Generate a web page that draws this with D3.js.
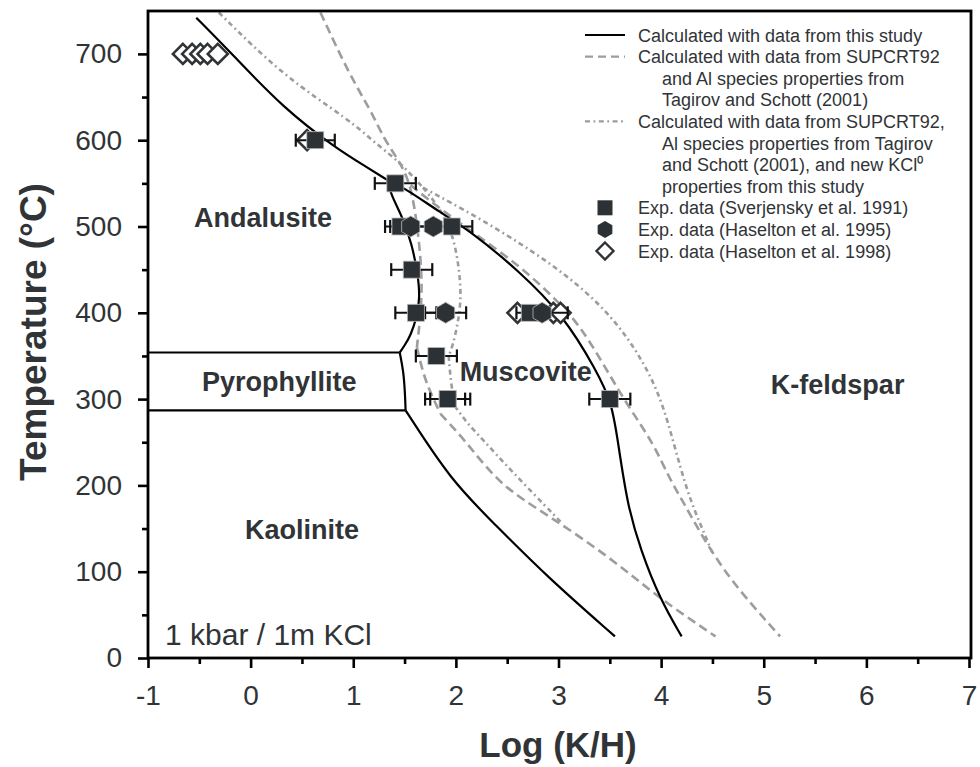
<!DOCTYPE html>
<html>
<head>
<meta charset="utf-8">
<script src="https://cdn.jsdelivr.net/npm/d3@7"></script>
<style>
  html, body { margin: 0; padding: 0; background: #fff; }
  svg { display: block; font-family: "Liberation Sans", Arial, sans-serif; }
</style>
</head>
<body>
<svg id="chart" width="980" height="767"></svg>
<script>
// ---- tick values ----
const xTicks = [-1, 0, 1, 2, 3, 4, 5, 6, 7];
const xMinor = [-0.5, 0.5, 1.5, 2.5, 3.5, 4.5, 5.5, 6.5];
const yTicks = [0, 100, 200, 300, 400, 500, 600, 700];
const yMinor = [50, 150, 250, 350, 450, 550, 650];

// ---- phase boundaries, [log(K/H), T °C] ----
// this study (solid)
const solidAndKfs  = [[-0.53, 742], [-0.19, 701], [0.32, 637], [0.84, 590], [1.13, 569], [1.33, 554]];
const solidMuscKfs = [[1.33, 554], [1.51, 544], [1.85, 516], [2.14, 495], [2.6, 450], [3.05, 397], [3.37, 333], [3.52, 296], [3.58, 250], [3.67, 178], [3.8, 125], [3.99, 68], [4.2, 25]];
const solidAndMusc = [[1.33, 554], [1.37, 536], [1.48, 511], [1.57, 480], [1.63, 445], [1.65, 418], [1.62, 395], [1.56, 374], [1.5, 362], [1.453, 354]];
const solidPyrMusc = [[1.453, 354], [1.49, 332], [1.505, 305], [1.51, 287]];
const solidKaoMusc = [[1.51, 287], [1.95, 206], [2.37, 156], [2.89, 94], [3.55, 25]];
const pyrUpper = [[-1, 354], [1.453, 354]];
const pyrLower = [[-1, 287], [1.51, 287]];

// SUPCRT92 + Tagirov & Schott (dashed)
const dashAnd  = [[0.68, 748], [0.97, 674], [1.17, 635], [1.3, 601], [1.46, 574], [1.56, 548], [1.62, 505], [1.66, 460], [1.67, 425], [1.65, 390], [1.62, 360]];
const dashPyr  = [[1.62, 360], [1.68, 330], [1.75, 308], [1.85, 283]];
const dashKao  = [[1.85, 283], [2.12, 248], [2.43, 200], [2.89, 166], [3.5, 117], [3.96, 71], [4.53, 25]];
const dashKfs  = [[1.56, 548], [1.69, 535], [2.08, 500], [2.6, 457], [2.98, 415], [3.21, 385], [3.44, 340], [3.67, 293], [3.92, 250], [4.08, 208], [4.22, 180], [4.38, 145], [4.67, 90], [5.16, 25]];

// with new KCl0 properties (dash-dot)
const dotAnd  = [[-0.31, 748], [0.32, 674], [0.97, 623], [1.2, 598], [1.45, 575], [1.68, 545]];
const dotMusc = [[1.68, 545], [1.8, 528], [1.93, 503], [2.0, 475], [2.04, 442], [2.05, 415], [2.02, 388], [1.97, 362], [1.93, 350]];
const dotPyr  = [[1.93, 350], [1.95, 320], [1.99, 292]];
const dotKao  = [[1.99, 292], [2.11, 272], [2.24, 256], [2.53, 218], [3.02, 158]];
const dotKfs  = [[1.68, 545], [2.21, 511], [2.73, 473], [3.21, 432], [3.63, 382], [3.97, 314], [4.12, 250], [4.26, 190], [4.4, 150], [4.5, 122]];

// ---- experimental data: x, T, error in log units ----
const sverjensky1991 = [
  {x: 0.63, t: 600, e: 0.19},
  {x: 1.41, t: 550, e: 0.2},
  {x: 1.46, t: 500, e: 0.15},
  {x: 1.96, t: 500, e: 0.2},
  {x: 1.57, t: 450, e: 0.2},
  {x: 1.61, t: 400, e: 0.2},
  {x: 2.72, t: 400, e: 0},
  {x: 1.81, t: 350, e: 0.2},
  {x: 1.92, t: 300, e: 0.22},
  {x: 1.92, t: 300, e: 0.17},
  {x: 3.50, t: 300, e: 0.2}
];
const haselton1995 = [
  {x: 1.56, t: 500, e: 0.2},
  {x: 1.78, t: 500, e: 0.2},
  {x: 1.90, t: 400, e: 0.2},
  {x: 2.84, t: 400, e: 0.25}
];
const haselton1998 = [
  {x: -0.66, t: 700}, {x: -0.57, t: 700}, {x: -0.49, t: 700}, {x: -0.42, t: 700}, {x: -0.32, t: 700},
  {x: 0.55, t: 600},
  {x: 2.6, t: 400}, {x: 2.95, t: 400}, {x: 3.02, t: 400}
];

// ---- text ----
const phaseLabels = [
  {name: "Andalusite", x: 0.12, t: 500},
  {name: "Pyrophyllite", x: 0.28, t: 309},
  {name: "Muscovite", x: 2.68, t: 321},
  {name: "K-feldspar", x: 5.72, t: 306},
  {name: "Kaolinite", x: 0.5, t: 138}
];
const legendRows = [
  {kind: "solid", lines: ["Calculated with data from this study"]},
  {kind: "dash", lines: ["Calculated with data from SUPCRT92", "and Al species properties from", "Tagirov and Schott (2001)"]},
  {kind: "dot", lines: ["Calculated with data from SUPCRT92,", "Al species properties from Tagirov", "and Schott (2001), and new KCl\u2070", "properties from this study"]},
  {kind: "square", lines: ["Exp. data (Sverjensky et al. 1991)"]},
  {kind: "hex", lines: ["Exp. data (Haselton et al. 1995)"]},
  {kind: "diamond", lines: ["Exp. data (Haselton et al. 1998)"]}
];

// ---- layout ----
const frame = {left: 148, top: 11, right: 971, bottom: 658};
const svg = d3.select("#chart");
const textColor = "#303437";
const gray = "#9d9d9d";
const dashPattern = "9,5";
const dotPattern = "5,3.5,1.8,3.5";

const x = d3.scaleLinear().domain([-1, 7]).range([148, 969]);
const y = d3.scaleLinear().domain([0, 750]).range([658, 10.75]);

svg.append("rect").attr("width", 980).attr("height", 767).attr("fill", "#fff");

const straight = d3.line().x(d => x(d[0])).y(d => y(d[1]));
const smooth = d3.line().x(d => x(d[0])).y(d => y(d[1])).curve(d3.curveBasis);

const plot = svg.append("g");

function drawLine(data, style, curved = true) {
  const p = plot.append("path")
    .attr("d", (curved ? smooth : straight)(data))
    .attr("fill", "none")
    .attr("stroke-linejoin", "round");
  if (style === "solid") p.attr("stroke", "#000").attr("stroke-width", 2.2);
  if (style === "dash") p.attr("stroke", gray).attr("stroke-width", 2.6).attr("stroke-dasharray", dashPattern);
  if (style === "dot") p.attr("stroke", gray).attr("stroke-width", 2.6).attr("stroke-dasharray", dotPattern);
  return p;
}

// gray curves under the black ones
[dashAnd, dashPyr, dashKao, dashKfs].forEach(d => drawLine(d, "dash"));
[dotAnd, dotMusc, dotPyr, dotKao, dotKfs].forEach(d => drawLine(d, "dot"));

[solidAndKfs, solidMuscKfs, solidAndMusc, solidPyrMusc, solidKaoMusc].forEach(d => drawLine(d, "solid"));
drawLine(pyrUpper, "solid", false);
drawLine(pyrLower, "solid", false);

// ---- markers ----
const markFill = "#2c3135";
function pointyHex(r) {
  const pts = d3.range(6).map(i => {
    const a = -Math.PI / 2 + i * Math.PI / 3;
    return [r * Math.cos(a), r * Math.sin(a)];
  });
  return "M" + pts.map(p => p.map(v => v.toFixed(2)).join(",")).join("L") + "Z";
}
function diamondPath(r) { return `M0,${-r}L${r},0L0,${r}L${-r},0Z`; }

// open diamonds first, so filled marks and bars sit on top
plot.selectAll(".dia").data(haselton1998).join("path")
  .attr("transform", d => `translate(${x(d.x)},${y(d.t)})`)
  .attr("d", diamondPath(10))
  .attr("fill", "#fff").attr("stroke", textColor).attr("stroke-width", 2.6);

// error bars
const withErr = sverjensky1991.concat(haselton1995).filter(d => d.e > 0);
const eb = plot.selectAll(".eb").data(withErr).join("g");
eb.append("line")
  .attr("x1", d => x(d.x - d.e)).attr("x2", d => x(d.x + d.e))
  .attr("y1", d => y(d.t)).attr("y2", d => y(d.t))
  .attr("stroke", "#111").attr("stroke-width", 2);
[-1, 1].forEach(s => {
  eb.append("line")
    .attr("x1", d => x(d.x + s * d.e)).attr("x2", d => x(d.x + s * d.e))
    .attr("y1", d => y(d.t) - 6.5).attr("y2", d => y(d.t) + 6.5)
    .attr("stroke", "#111").attr("stroke-width", 2.2);
});

// filled squares and hexagons
plot.selectAll(".sq").data(sverjensky1991).join("rect")
  .attr("x", d => x(d.x) - 8.5).attr("y", d => y(d.t) - 8.5)
  .attr("width", 17).attr("height", 17)
  .attr("fill", markFill).attr("stroke", "#bbb").attr("stroke-width", 0.8);
plot.selectAll(".hx").data(haselton1995).join("path")
  .attr("transform", d => `translate(${x(d.x)},${y(d.t)})`)
  .attr("d", pointyHex(10.5))
  .attr("fill", markFill).attr("stroke", "#bbb").attr("stroke-width", 0.8);

// ---- frame and axes ----
svg.append("rect")
  .attr("x", frame.left).attr("y", frame.top)
  .attr("width", frame.right - frame.left).attr("height", frame.bottom - frame.top)
  .attr("fill", "none").attr("stroke", "#000").attr("stroke-width", 2.8);

const xAxis = svg.append("g").attr("transform", `translate(0,${frame.bottom})`)
  .call(d3.axisBottom(x).tickValues(xTicks).tickSize(10).tickPadding(17).tickFormat(d3.format("d")));
const xAxisMinor = svg.append("g").attr("transform", `translate(0,${frame.bottom})`)
  .call(d3.axisBottom(x).tickValues(xMinor).tickSize(6).tickFormat(""));
const yAxis = svg.append("g").attr("transform", `translate(${frame.left},0)`)
  .call(d3.axisLeft(y).tickValues(yTicks).tickSize(10).tickPadding(16).tickFormat(d3.format("d")));
const yAxisMinor = svg.append("g").attr("transform", `translate(${frame.left},0)`)
  .call(d3.axisLeft(y).tickValues(yMinor).tickSize(6).tickFormat(""));

[xAxis, xAxisMinor, yAxis, yAxisMinor].forEach(g => {
  g.select(".domain").remove();
  g.selectAll(".tick line").attr("stroke", "#000").attr("stroke-width", 2.6);
  g.selectAll(".tick text").attr("fill", textColor).style("font-size", "28px")
    .style("font-family", "'Liberation Sans', Arial, sans-serif");
});
xAxis.selectAll(".tick text").text(d => d < 0 ? "-" + Math.abs(d) : d);

// axis titles
svg.append("text")
  .attr("x", 558).attr("y", 757)
  .attr("text-anchor", "middle")
  .attr("fill", textColor).attr("font-weight", "bold").style("font-size", "35px")
  .text("Log (K/H)");
svg.append("text")
  .attr("transform", "translate(46,332) rotate(-90)")
  .attr("text-anchor", "middle")
  .attr("fill", textColor).attr("font-weight", "bold").style("font-size", "37px")
  .text("Temperature (\u00B0C)");

// phase field labels
svg.selectAll(".phase").data(phaseLabels).join("text")
  .attr("x", d => x(d.x)).attr("y", d => y(d.t))
  .attr("text-anchor", "middle")
  .attr("fill", textColor).attr("font-weight", "bold").style("font-size", "27px")
  .text(d => d.name);

svg.append("text")
  .attr("x", 165).attr("y", 645)
  .attr("fill", textColor).style("font-size", "30px")
  .text("1 kbar / 1m KCl");

// ---- legend ----
const legend = svg.append("g");
const rowH = 21.6;
let row = 0;
legendRows.forEach(item => {
  const cy = 35 + row * rowH;
  const sym = legend.append("g").attr("transform", `translate(605,${cy})`);
  if (item.kind === "solid" || item.kind === "dash" || item.kind === "dot") {
    const l = sym.append("line").attr("x1", -20).attr("x2", 20).attr("y1", 0).attr("y2", 0);
    if (item.kind === "solid") l.attr("stroke", "#000").attr("stroke-width", 2.2);
    if (item.kind === "dash") l.attr("stroke", gray).attr("stroke-width", 2.2).attr("stroke-dasharray", "8,5");
    if (item.kind === "dot") l.attr("stroke", gray).attr("stroke-width", 2.2).attr("stroke-dasharray", dotPattern);
  } else if (item.kind === "square") {
    sym.append("rect").attr("x", -7.5).attr("y", -7.5).attr("width", 15).attr("height", 15).attr("fill", markFill);
  } else if (item.kind === "hex") {
    sym.append("path").attr("d", pointyHex(8.5)).attr("fill", markFill);
  } else if (item.kind === "diamond") {
    sym.append("path").attr("d", diamondPath(8.5)).attr("fill", "#fff").attr("stroke", textColor).attr("stroke-width", 2.4);
  }
  item.lines.forEach((txt, i) => {
    legend.append("text")
      .attr("x", i === 0 ? 638 : 662).attr("y", cy + 6.5 + i * rowH)
      .attr("fill", textColor).style("font-size", "18px")
      .text(txt);
  });
  row += item.lines.length;
});
</script>
</body>
</html>
